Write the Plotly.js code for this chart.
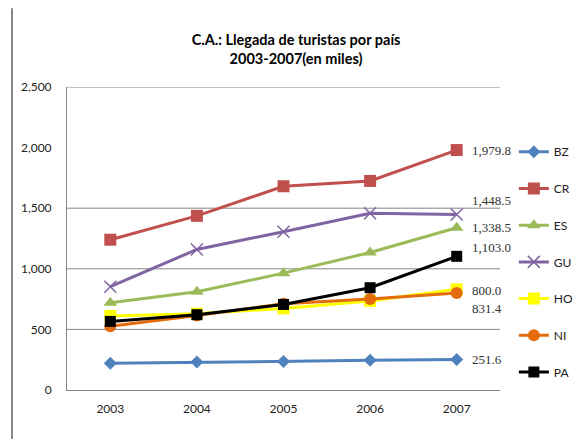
<!DOCTYPE html>
<html>
<head>
<meta charset="utf-8">
<script src="https://cdn.plot.ly/plotly-3.0.1.min.js"></script>
<style>html,body{margin:0;padding:0;background:#fff;}#chart{width:576px;height:439px;}</style>
</head>
<body>
<div id="chart"></div>
<script>
const years = ['2003', '2004', '2005', '2006', '2007'];
const seriesNames = ['BZ', 'CR', 'ES', 'GU', 'HO', 'NI', 'PA'];
const BZ = [220, 230, 236, 245, 251.6];
const CR = [1240, 1437, 1681, 1725, 1979.8];
const ES = [720, 811, 964, 1134, 1338.5];
const GU = [852, 1160, 1306, 1458, 1448.5];
const HO = [611, 630, 673, 735, 831.4];
const NI = [526, 615, 712, 751, 800.0];
const PA = [566, 621, 706, 844, 1103.0];
const lastLabels = {BZ: '251.6', CR: '1,979.8', ES: '1,338.5', GU: '1,448.5', HO: '831.4', NI: '800.0', PA: '1,103.0'};

const values = {BZ, CR, ES, GU, HO, NI, PA};
const colors = {BZ: '#4F81BD', CR: '#C0504D', ES: '#9BBB59', GU: '#8064A2', HO: '#FFFF00', NI: '#E46C0A', PA: '#000000'};
const symbols = {BZ: 'diamond', CR: 'square', ES: 'triangle-up', GU: 'x-thin-open', HO: 'square', NI: 'circle', PA: 'square'};
const sizes = {BZ: 10, CR: 12, ES: 12, GU: 12, HO: 12, NI: 12, PA: 11};
const labelShift = {BZ: 0, CR: 0, ES: 0, GU: 14, HO: -19, NI: 3, PA: 9};

const traces = seriesNames.map(function (n) {
  const v = values[n];
  return {
    x: years, y: v, name: n, type: 'scatter', mode: 'lines+markers',
    legendgroup: n,
    line: {color: colors[n], width: 3},
    marker: {color: colors[n], symbol: symbols[n], size: sizes[n], line: {color: colors[n], width: n === 'GU' ? 1.5 : 0}},
    cliponaxis: false,
    hoverinfo: 'x+y+name'
  };
});

const annotations = seriesNames.map(function (n) {
  const v = values[n];
  return {
    x: years.length - 1, y: v[v.length - 1], xref: 'x', yref: 'y',
    text: lastLabels[n], showarrow: false, xanchor: 'left', yanchor: 'middle',
    xshift: 13, yshift: labelShift[n],
    font: {family: 'Liberation Serif, DejaVu Serif, serif', size: 13, color: '#333333'}
  };
});

const gridVals = [500, 1000, 1500, 2500];
const shapes = gridVals.map(function (g) {
  return {type: 'line', xref: 'paper', yref: 'y', x0: 0, x1: 1, y0: g, y1: g, line: {color: '#868686', width: 1}, layer: 'below'};
});
shapes.push({type: 'line', xref: 'paper', yref: 'paper', x0: -0.127, x1: -0.127, y0: 1.26, y1: -0.17, line: {color: '#8a8a8a', width: 2}});

const sansFont = 'Lato, Liberation Sans, Arial, sans-serif';
const layout = {
  width: 576, height: 439,
  margin: {l: 67, r: 76, t: 87, b: 49, autoexpand: false},
  paper_bgcolor: '#ffffff', plot_bgcolor: '#ffffff',
  font: {family: sansFont, size: 12, color: '#404040'},
  title: {
    text: '<b>C.A.: Llegada de turistas por país<br>2003-2007(en miles)</b>',
    font: {family: sansFont, size: 14.5, color: '#000000'},
    x: 0.514, xanchor: 'center', xref: 'container',
    y: 0.897, yanchor: 'middle', yref: 'container'
  },
  xaxis: {
    type: 'category', range: [-0.5, 4.5], showgrid: false, zeroline: false,
    showline: true, linecolor: '#868686', linewidth: 1,
    ticks: 'outside', ticklen: 8, tickcolor: 'rgba(0,0,0,0)',
    tickfont: {size: 12, color: '#222222'}
  },
  yaxis: {
    range: [0, 2500], tickvals: [0, 500, 1000, 1500, 2000, 2500],
    ticktext: ['0', '500', '1,000', '1,500', '2,000', '2,500'],
    showgrid: false, zeroline: false,
    showline: true, linecolor: '#868686', linewidth: 1,
    ticks: 'outside', ticklen: 12, tickcolor: 'rgba(0,0,0,0)',
    tickfont: {size: 12, color: '#222222'}
  },
  legend: {
    x: 1.032, xanchor: 'left', y: 0.834, yanchor: 'top',
    traceorder: 'grouped', tracegroupgap: 17.7,
    font: {size: 12, color: '#222222'}, itemwidth: 30,
    bgcolor: 'rgba(0,0,0,0)'
  },
  annotations: annotations,
  shapes: shapes,
  showlegend: true
};

Plotly.newPlot('chart', traces, layout, {displayModeBar: false, staticPlot: true});
</script>
</body>
</html>
